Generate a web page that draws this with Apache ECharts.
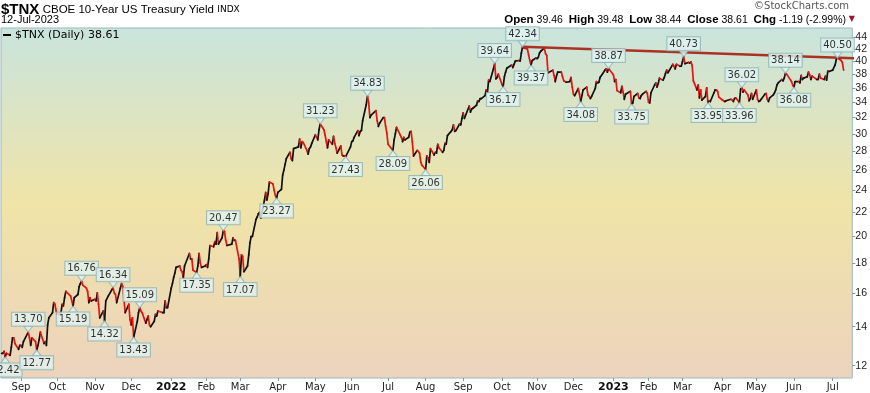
<!DOCTYPE html>
<html><head><meta charset="utf-8">
<script src="https://cdn.jsdelivr.net/npm/echarts@6/dist/echarts.min.js"></script>
<style>html,body{margin:0;padding:0;background:#fff}#c{width:870px;height:393px}</style>
</head><body><div id="c"></div><script>
// ---- data (close x10) ----
const days2021 = ['08-16','08-17','08-18','08-19','08-20','08-23','08-24','08-25','08-26','08-27','08-30','08-31',
'09-01','09-02','09-03','09-07','09-08','09-09','09-10','09-13','09-14','09-15','09-16','09-17','09-20','09-21','09-22','09-23','09-24','09-27','09-28','09-29','09-30',
'10-01','10-04','10-05','10-06','10-07','10-08','10-12','10-13','10-14','10-15','10-18','10-19','10-20','10-21','10-22','10-25','10-26','10-27','10-28','10-29',
'11-01','11-02','11-03','11-04','11-05','11-08','11-09','11-10','11-12','11-15','11-16','11-17','11-18','11-19','11-22','11-23','11-24','11-26','11-29','11-30',
'12-01','12-02','12-03','12-06','12-07','12-08','12-09','12-10','12-13','12-14','12-15','12-16','12-17','12-20','12-21','12-22','12-23','12-27','12-28','12-29','12-30','12-31'];
const close2021 = [12.6,12.6,12.7,12.42,12.6,12.5,12.9,13.4,13.4,13.1,12.8,13.0,
13.0,12.9,13.2,13.70,13.4,13.0,13.4,13.2,12.77,13.0,13.3,13.7,13.1,13.2,13.0,14.1,14.5,14.8,15.4,15.3,14.9,
14.7,14.8,15.3,15.2,15.7,16.1,15.8,15.5,15.19,15.7,15.9,16.4,16.6,16.76,16.5,16.3,16.1,15.4,15.7,15.5,
15.6,15.5,16.0,15.3,14.5,14.9,14.32,15.5,15.8,16.2,16.34,16.0,15.9,15.4,16.3,16.6,16.4,14.8,15.3,14.4,
14.1,14.5,13.43,14.3,14.8,15.09,14.9,14.8,14.2,14.4,14.6,14.1,14.0,14.3,14.7,14.6,14.9,14.8,14.8,15.5,15.1,15.1];

const days2022 = ['01-03','01-04','01-05','01-06','01-07','01-10','01-11','01-12','01-13','01-14','01-18','01-19','01-20','01-21','01-24','01-25','01-26','01-27','01-28','01-31',
'02-01','02-02','02-03','02-04','02-07','02-08','02-09','02-10','02-11','02-14','02-15','02-16','02-17','02-18','02-22','02-23','02-24','02-25','02-28',
'03-01','03-02','03-03','03-04','03-07','03-08','03-09','03-10','03-11','03-14','03-15','03-16','03-17','03-18','03-21','03-22','03-23','03-24','03-25','03-28','03-29','03-30','03-31',
'04-01','04-04','04-05','04-06','04-07','04-08','04-11','04-12','04-13','04-14','04-18','04-19','04-20','04-21','04-22','04-25','04-26','04-27','04-28','04-29',
'05-02','05-03','05-04','05-05','05-06','05-09','05-10','05-11','05-12','05-13','05-16','05-17','05-18','05-19','05-20','05-23','05-24','05-25','05-26','05-27','05-31',
'06-01','06-02','06-03','06-06','06-07','06-08','06-09','06-10','06-13','06-14','06-15','06-16','06-17','06-21','06-22','06-23','06-24','06-27','06-28','06-29','06-30',
'07-01','07-05','07-06','07-07','07-08','07-11','07-12','07-13','07-14','07-15','07-18','07-19','07-20','07-21','07-22','07-25','07-26','07-27','07-28','07-29',
'08-01','08-02','08-03','08-04','08-05','08-08','08-09','08-10','08-11','08-12','08-15','08-16','08-17','08-18','08-19','08-22','08-23','08-24','08-25','08-26','08-29','08-30','08-31',
'09-01','09-02','09-06','09-07','09-08','09-09','09-12','09-13','09-14','09-15','09-16','09-19','09-20','09-21','09-22','09-23','09-26','09-27','09-28','09-29','09-30',
'10-03','10-04','10-05','10-06','10-07','10-11','10-12','10-13','10-14','10-17','10-18','10-19','10-20','10-21','10-24','10-25','10-26','10-27','10-28','10-31',
'11-01','11-02','11-03','11-04','11-07','11-08','11-09','11-10','11-14','11-15','11-16','11-17','11-18','11-21','11-22','11-23','11-25','11-28','11-29','11-30',
'12-01','12-02','12-05','12-06','12-07','12-08','12-09','12-12','12-13','12-14','12-15','12-16','12-19','12-20','12-21','12-22','12-23','12-27','12-28','12-29','12-30'];
const close2022 = [16.3,16.6,17.0,17.3,17.7,17.8,17.5,17.4,17.0,17.8,18.7,18.3,18.3,17.5,17.35,17.8,18.7,18.0,17.7,17.8,
17.9,17.7,18.3,19.3,19.2,19.6,19.4,20.3,19.4,19.9,20.47,20.4,19.7,19.3,19.4,19.9,19.7,19.7,18.3,
17.07,18.6,18.5,17.4,17.8,18.6,19.5,20.0,20.0,21.4,21.6,21.9,22.0,21.5,23.1,23.8,23.1,23.7,24.8,24.6,24.0,23.5,23.27,
23.8,24.1,25.5,26.0,26.6,27.2,27.9,27.2,27.0,28.3,28.5,29.4,28.4,29.1,29.0,28.1,27.7,28.3,28.5,28.9,
29.9,29.6,29.3,30.5,31.23,30.5,29.9,29.1,28.4,29.3,28.8,29.7,28.9,28.4,27.8,28.6,27.6,27.5,27.5,27.43,28.5,
29.1,29.2,29.6,30.4,29.8,30.3,30.4,31.6,33.7,34.83,33.9,32.0,32.3,32.9,31.6,30.9,31.3,32.0,32.0,30.9,30.1,
28.8,28.09,29.3,30.0,30.8,29.9,29.6,29.1,29.6,29.3,29.6,30.2,30.3,29.1,27.5,28.1,28.0,27.8,26.8,26.5,
26.06,27.5,27.3,26.8,28.3,27.6,27.9,27.8,28.8,28.4,27.9,28.1,28.9,28.8,29.8,30.3,30.5,31.1,30.3,30.4,31.2,31.1,31.9,
32.6,31.9,33.5,32.7,33.1,33.2,33.6,34.2,34.1,34.5,34.5,34.9,35.7,35.3,37.1,36.9,38.8,39.64,37.3,37.5,38.0,
36.5,36.17,37.6,38.3,38.9,39.4,39.0,39.5,40.0,40.1,40.0,41.3,42.34,42.1,42.0,41.0,40.1,39.37,40.1,40.5,
40.4,40.6,41.3,41.6,42.1,41.2,40.9,38.2,38.6,37.8,36.9,37.7,38.3,38.3,37.6,37.0,36.8,36.9,37.5,36.1,
35.1,34.9,35.9,35.1,34.08,34.9,35.7,36.1,35.0,34.8,34.5,34.8,35.9,36.9,36.7,36.8,37.5,38.6,38.8,38.3,38.87];

const days2023 = ['01-03','01-04','01-05','01-06','01-09','01-10','01-11','01-12','01-13','01-17','01-18','01-19','01-20','01-23','01-24','01-25','01-26','01-27','01-30','01-31',
'02-01','02-02','02-03','02-06','02-07','02-08','02-09','02-10','02-13','02-14','02-15','02-16','02-17','02-21','02-22','02-23','02-24','02-27','02-28',
'03-01','03-02','03-03','03-06','03-07','03-08','03-09','03-10','03-13','03-14','03-15','03-16','03-17','03-20','03-21','03-22','03-23','03-24','03-27','03-28','03-29','03-30','03-31',
'04-03','04-04','04-05','04-06','04-10','04-11','04-12','04-13','04-14','04-17','04-18','04-19','04-20','04-21','04-24','04-25','04-26','04-27','04-28',
'05-01','05-02','05-03','05-04','05-05','05-08','05-09','05-10','05-11','05-12','05-15','05-16','05-17','05-18','05-19','05-22','05-23','05-24','05-25','05-26','05-30','05-31',
'06-01','06-02','06-05','06-06','06-07','06-08','06-09','06-12','06-13','06-14','06-15','06-16','06-20','06-21','06-22','06-23','06-26','06-27','06-28','06-29','06-30',
'07-03','07-05','07-06','07-07','07-10','07-11','07-12'];
const close2023 = [37.9,36.9,37.2,35.6,35.3,36.2,35.4,34.4,35.1,35.5,33.75,33.9,34.8,35.2,34.6,34.5,34.9,35.1,35.5,35.2,
34.0,33.9,35.3,36.4,36.7,36.1,36.6,37.4,37.1,37.5,38.1,38.6,38.2,39.5,39.2,38.8,39.5,39.2,39.2,
39.9,40.73,39.6,39.8,39.7,39.9,39.3,37.0,35.7,36.4,34.6,35.7,34.3,34.8,36.0,33.95,34.2,34.1,35.3,35.7,35.7,35.5,34.7,
34.3,34.2,34.1,34.2,34.4,34.3,34.1,34.5,34.6,33.96,35.8,36.02,35.4,35.7,35.0,34.2,34.5,35.2,34.4,
35.7,34.4,34.1,34.2,34.4,35.1,35.2,34.4,34.1,34.6,35.0,35.3,35.7,36.4,36.7,37.2,37.0,37.4,38.14,38.0,36.9,36.4,
36.08,36.9,36.9,36.7,37.8,37.2,37.4,37.6,38.3,37.9,37.2,37.7,37.2,37.2,38.0,37.4,37.2,37.7,37.1,38.5,38.4,
38.6,39.4,40.3,40.50,40.1,39.80,38.61];

// annotated swing points
const peakDates = ['2021-09-07','2021-10-21','2021-11-16','2021-12-08','2022-02-15','2022-05-06','2022-06-14','2022-09-27','2022-10-20','2022-12-30','2023-03-02','2023-04-19','2023-05-25','2023-07-07'];
const lowDates = ['2021-08-19','2021-09-14','2021-10-14','2021-11-09','2021-12-03','2022-01-24','2022-03-01','2022-03-31','2022-05-27','2022-07-05','2022-08-01','2022-10-04','2022-10-27','2022-12-07','2023-01-18','2023-03-22','2023-04-17','2023-06-01'];

// trend line (from Oct-2022 high)
const trendDates = ['2022-10-20','2023-07-30'];
const trendValues = [42.34, 40.39];

const yTicks = [12,14,16,18,20,22,24,26,28,30,32,34,36,38,40,42,44];
const monthStarts = ['2021-09-01','2021-10-01','2021-11-01','2021-12-01','2022-01-03','2022-02-01','2022-03-01','2022-04-01','2022-05-02','2022-06-01','2022-07-01','2022-08-01','2022-09-01','2022-10-03','2022-11-01','2022-12-01','2023-01-03','2023-02-01','2023-03-01','2023-04-03','2023-05-01','2023-06-01','2023-07-03'];
const monthNames = ['Jan','Feb','Mar','Apr','May','Jun','Jul','Aug','Sep','Oct','Nov','Dec'];

// ---- build ----
function ts(s){ const p=s.split(/[- :]/).map(Number); return new Date(p[0],p[1]-1,p[2],p[3]||0,p[4]||0).getTime(); }
const series = [];
[[2021,days2021,close2021],[2022,days2022,close2022],[2023,days2023,close2023]].forEach(([y,d,c])=>{
  d.forEach((md,i)=>series.push([ts(y+'-'+md), c[i]]));
});
const lookup = {}; series.forEach(p=>lookup[p[0]]=p[1]);
const peaks = peakDates.map(d=>[ts(d), lookup[ts(d)]]);
const lows = lowDates.map(d=>[ts(d), lookup[ts(d)]]);
const trend = trendDates.map((d,i)=>[ts(d), trendValues[i]]);

const boxFill = '#e1f3f1', boxBorder = '#8fb3b3';
const lblStyle = {show:true, fontSize:10, fontFamily:'DejaVu Sans', color:'#000',
  backgroundColor:boxFill, borderColor:boxBorder, borderWidth:1, padding:[2,2,1,2], distance:0,
  formatter:p=>p.value[1].toFixed(2)};

const chart = echarts.init(document.getElementById('c'), null, {renderer:'canvas'});
chart.setOption({
  animation:false,
  backgroundColor:'#fff',
  grid:{left:1,right:17,top:28,bottom:14,show:true,borderColor:'#9db8bd',borderWidth:1,
    backgroundColor:new echarts.graphic.LinearGradient(0,0,0,1,[
      {offset:0,color:'#c9e4dd'},{offset:0.5,color:'#f0e4a7'},{offset:1,color:'#ecd3bd'}])},
  xAxis:{type:'value', min:ts('2021-08-15 12:00'), max:ts('2023-07-19 05:00'),
    axisLine:{show:false}, splitLine:{show:false},
    axisTick:{show:true, customValues:monthStarts.map(ts), length:3, lineStyle:{color:'#7f9ea3'}},
    axisLabel:{customValues:monthStarts.map(ts), margin:4, fontSize:10, fontFamily:'DejaVu Sans', color:'#222',
      formatter:v=>{const d=new Date(v); return d.getMonth()===0?'{y|'+d.getFullYear()+'}':monthNames[d.getMonth()];},
      rich:{y:{fontWeight:'bold',fontSize:11,fontFamily:'DejaVu Sans',color:'#111'}}}},
  yAxis:{type:'log', logBase:10, min:11.43, max:45.6, position:'right',
    axisLine:{show:false}, splitLine:{show:false}, minorTick:{show:false},
    axisTick:{show:true, customValues:yTicks, length:3, lineStyle:{color:'#7f9ea3'}},
    axisLabel:{customValues:yTicks, margin:3, fontSize:10.5, fontFamily:'Liberation Sans', color:'#222'}},
  series:[
    {type:'custom', name:'$TNX', data:series, encode:{x:0,y:1}, z:3, silent:true,
      renderItem:(params, api)=>{
        const i = params.dataIndex; if (i===0) return null;
        const prev = series[i-1];
        const p0 = api.coord([prev[0], prev[1]]);
        const p1 = api.coord([api.value(0), api.value(1)]);
        const up = api.value(1) >= prev[1];
        return {type:'line', shape:{x1:p0[0],y1:p0[1],x2:p1[0],y2:p1[1]},
          style:{stroke:up?'#111':'#e5140f', lineWidth:1.7, lineCap:'round'}};
      }},
    {type:'line', data:trend, symbol:'none', clip:false, z:4, silent:true,
      lineStyle:{color:'#a8281a', width:2.6, opacity:0.95}},
    {type:'scatter', data:peaks, symbol:'path://M0,0L10,0L5,6Z', symbolSize:[9,6], symbolOffset:[0,-3], z:6, silent:true,
      itemStyle:{color:boxFill, borderColor:boxBorder, borderWidth:1},
      label:Object.assign({position:'top'}, lblStyle)},
    {type:'scatter', data:lows, symbol:'path://M5,0L10,6L0,6Z', symbolSize:[9,6], symbolOffset:[0,3], z:6, silent:true,
      itemStyle:{color:boxFill, borderColor:boxBorder, borderWidth:1},
      label:Object.assign({position:'bottom'}, lblStyle)}
  ],
  graphic:[
    {type:'text', left:1, top:2, style:{text:'{t|$TNX} {n|CBOE 10-Year US Treasury Yield} {s|INDX}', rich:{
      t:{fontSize:15, fontWeight:'bold', fontFamily:'Liberation Sans', fill:'#000'},
      n:{fontSize:11.5, fontFamily:'Liberation Sans', fill:'#000'},
      s:{fontSize:9, fontFamily:'DejaVu Sans', fill:'#000'}}}},
    {type:'text', left:1, top:14, style:{text:'12-Jul-2023', fontSize:11, fontFamily:'Liberation Sans', fill:'#000'}},
    {type:'text', right:21, top:1, style:{text:'©StockCharts.com', fontSize:10, fontFamily:'DejaVu Sans', fill:'#555'}},
    {type:'text', right:24, top:14, style:{text:'{b|Open} 39.46  {b|High} 39.48  {b|Low} 38.44  {b|Close} 38.61  {b|Chg} -1.19 (-2.99%)',
      fontSize:10.5, fontFamily:'Liberation Sans', fill:'#000', rich:{b:{fontSize:11.5, fontWeight:'bold', fontFamily:'Liberation Sans', fill:'#000'}}}},
    {type:'text', right:15, top:15, style:{text:'▼', fontSize:8, fontFamily:'DejaVu Sans', fill:'#a0102a'}},
    {type:'rect', left:3, top:34, shape:{width:8,height:2}, style:{fill:'#000'}},
    {type:'text', left:15, top:30, style:{text:'$TNX (Daily) 38.61', fontSize:11, fontFamily:'DejaVu Sans', fill:'#000'}}
  ]
});
</script></body></html>
